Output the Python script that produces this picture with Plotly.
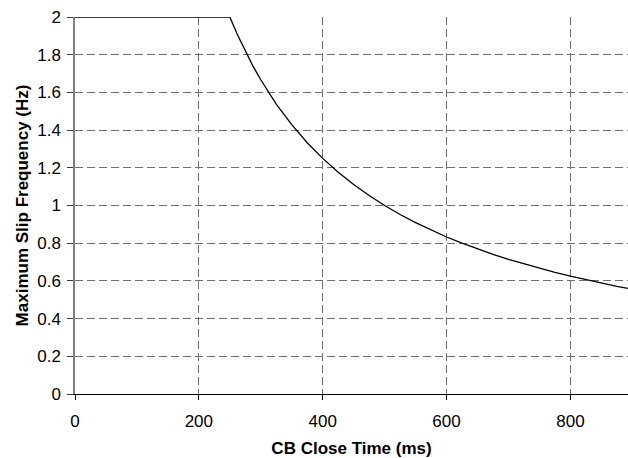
import plotly.graph_objects as go

close_time_ms = [0, 250, 262, 275, 287, 300, 325, 350, 375, 400, 425, 450, 475, 500,
                 525, 550, 575, 600, 625, 650, 675, 700, 725, 750, 775, 800,
                 825, 850, 875, 900]
max_slip_hz = [2.000, 2.000, 1.908, 1.818, 1.742, 1.667, 1.538, 1.429, 1.333, 1.250,
               1.176, 1.111, 1.053, 1.000, 0.952, 0.909, 0.870, 0.833, 0.800, 0.769,
               0.741, 0.714, 0.690, 0.667, 0.645, 0.625, 0.606, 0.588, 0.571, 0.556]

x_ticks = [0, 200, 400, 600, 800]
y_ticks = [0, 0.2, 0.4, 0.6, 0.8, 1, 1.2, 1.4, 1.6, 1.8, 2]
y_tick_text = ["0", "0.2", "0.4", "0.6", "0.8", "1", "1.2", "1.4", "1.6", "1.8", "2"]

font_family = "Liberation Sans, Arial, sans-serif"

fig = go.Figure()
fig.add_trace(go.Scatter(x=close_time_ms, y=max_slip_hz, mode="lines",
                         line=dict(color="black", width=1.3), showlegend=False))

fig.update_layout(
    width=628, height=458,
    margin=dict(l=75, r=0, t=17, b=64, autoexpand=False),
    paper_bgcolor="white", plot_bgcolor="white",
    font=dict(family=font_family, size=17, color="black"),
)
fig.update_xaxes(
    range=[0, 893], tickvals=x_ticks, ticktext=[str(v) for v in x_ticks],
    showgrid=True, gridcolor="#707070", gridwidth=1, griddash="8px,4px",
    showline=True, linecolor="black", linewidth=1.3,
    ticks="outside", ticklen=5, tickcolor="black", tickwidth=1,
    zeroline=False, ticklabelstandoff=6,
    title=dict(text="<b>CB Close Time (ms)</b>", font=dict(size=17), standoff=18),
    tickfont=dict(size=17),
)
fig.update_yaxes(
    range=[0, 2], tickvals=y_ticks, ticktext=y_tick_text,
    showgrid=True, gridcolor="#707070", gridwidth=1, griddash="8px,4px",
    showline=True, linecolor="#808080", linewidth=1.5,
    ticks="outside", ticklen=6, tickcolor="#404040", tickwidth=1,
    zeroline=False, ticklabelstandoff=3,
    title=dict(text="<b>Maximum Slip Frequency (Hz)</b>", font=dict(size=17), standoff=4),
    tickfont=dict(size=17),
)

fig.write_html("out.html", config={"displayModeBar": False},
               post_script="document.body.style.margin='0';document.body.style.overflow='hidden';")
